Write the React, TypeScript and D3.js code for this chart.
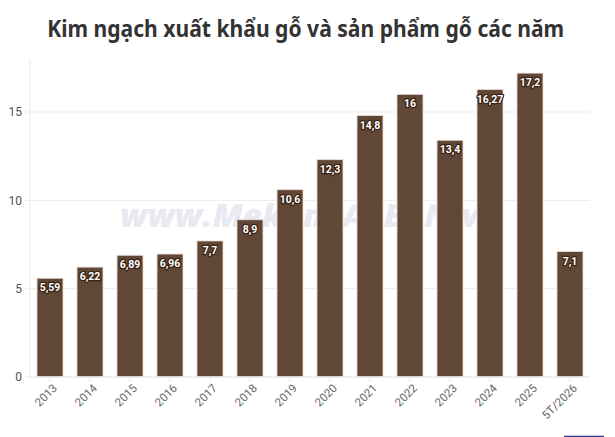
import React from "react";
import * as d3 from "d3";

const categories = ["2013","2014","2015","2016","2017","2018","2019","2020","2021","2022","2023","2024","2025","5T/2026"];
const values = [5.59,6.22,6.89,6.96,7.7,8.9,10.6,12.3,14.8,16,13.4,16.27,17.2,7.1];
const valueLabels = ["5,59","6,22","6,89","6,96","7,7","8,9","10,6","12,3","14,8","16","13,4","16,27","17,2","7,1"];
const yTicks = [0,5,10,15];
const title = "Kim ngạch xuất khẩu gỗ và sản phẩm gỗ các năm";
const watermark = "www.MekongASEAN.vn";

export default function App() {
  const W = 615, H = 437;
  const left = 30, right = 590, top = 59, bottom = 377;
  const x = d3.scaleBand<string>().domain(categories).range([left, right]).paddingInner(0.35).paddingOuter(0.175);
  const y = d3.scaleLinear().domain([0, 18]).range([bottom, top]);
  const font = "Roboto, 'Liberation Sans', sans-serif";
  return (
    <svg width={W} height={H} style={{ position: "absolute", left: 0, top: 0 }} xmlns="http://www.w3.org/2000/svg">
      <rect x={0} y={0} width={W} height={H} fill="#fff" />
      <text x={305.7} y={36.7} textAnchor="middle" fontFamily="'Noto Sans', sans-serif" fontWeight={700} fontSize={22.5} fill="#333" textLength={517} lengthAdjust="spacingAndGlyphs">{title}</text>
      {yTicks.map((t) => (
        <g key={t}>
          {t > 0 && <line x1={left} x2={right} y1={y(t)} y2={y(t)} stroke="#ebebeb" strokeWidth={1} />}
          <line x1={left - 5} x2={left} y1={y(t)} y2={y(t)} stroke="#ebebeb" strokeWidth={1} />
          <text x={left - 8} y={y(t)} dy="0.35em" textAnchor="end" fontFamily={font} fontSize={12} fill="#555">{t}</text>
        </g>
      ))}
      <line x1={left} x2={left} y1={top} y2={bottom} stroke="#ebebeb" strokeWidth={1} />
      <text x={310} y={227} textAnchor="middle" fontFamily="'Open Sans', sans-serif" fontStyle="italic" fontWeight={800} fontSize={31} fill="#e9e9f1" textLength={380} lengthAdjust="spacingAndGlyphs">{watermark}</text>
      {categories.map((c, i) => (
        <rect key={c} x={x(c)} y={y(values[i])} width={x.bandwidth()} height={bottom - y(values[i])} fill="#614836" stroke="#ecdcd6" strokeWidth={0.8} />
      ))}
      <line x1={left} x2={right} y1={bottom} y2={bottom} stroke="#ebebeb" strokeWidth={1.5} />
      {categories.map((c) => {
        const cx = (x(c) as number) + x.bandwidth() / 2;
        return <line key={"t" + c} x1={cx} x2={cx} y1={bottom} y2={bottom + 5} stroke="#ebebeb" />;
      })}
      {categories.map((c, i) => {
        const cx = (x(c) as number) + x.bandwidth() / 2;
        return (
          <text key={"l" + c} x={cx} y={y(values[i]) + 13} textAnchor="middle" fontFamily={font} fontWeight={700} fontSize={10.5} fill="#fff" stroke="#3a2214" strokeWidth={2.5} paintOrder="stroke" strokeLinejoin="round">{valueLabels[i]}</text>
        );
      })}
      {categories.map((c) => {
        const cx = (x(c) as number) + x.bandwidth() / 2;
        return (
          <text key={"x" + c} transform={`translate(${cx + 5},${bottom + 9}) rotate(-45)`} textAnchor="end" dy="0.35em" fontFamily={font} fontSize={11.5} fill="#666">{c}</text>
        );
      })}
      <line x1={564} x2={604} y1={436.5} y2={436.5} stroke="#2b3990" strokeWidth={1.5} />
    </svg>
  );
}
